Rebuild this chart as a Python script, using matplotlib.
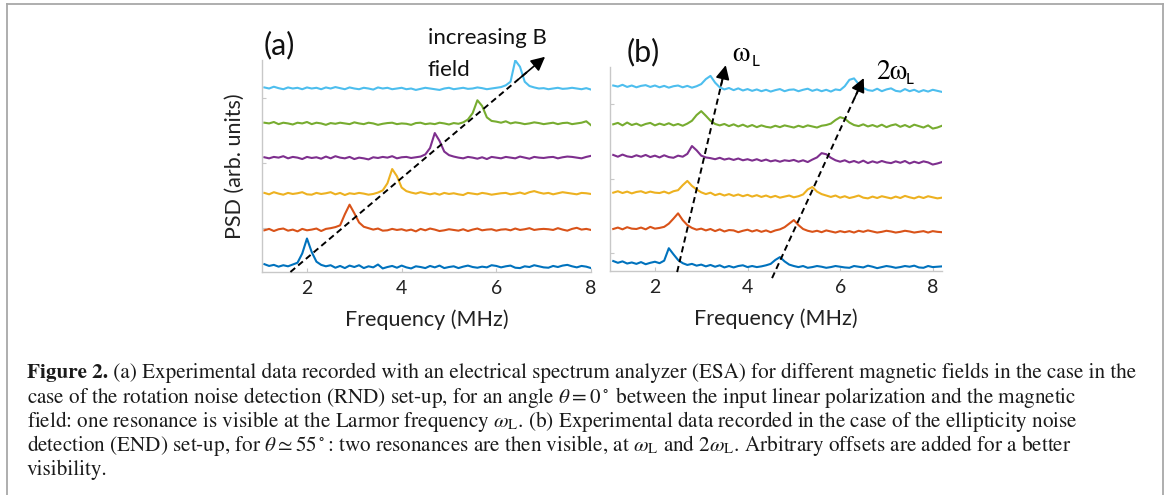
import numpy as np
import matplotlib
matplotlib.use('Agg')
import matplotlib.pyplot as plt
from matplotlib.lines import Line2D

plt.rcParams['mathtext.fontset'] = 'stix'

# frequency grids (MHz)
freq_a = np.arange(1.1, 8.05, 0.1)
freq_b = np.arange(1.1, 8.25, 0.1)

# trace colours (blue, red, yellow, purple, green, cyan)
colors = ['#0072BD', '#D95319', '#EDB120', '#7E2F8E', '#77AC30', '#4DBEEE']

# panel (a): PSD traces, in hundredths of the offset step
a_blue = [8, 3, 6, 1, 5, 2, 7, 12, 38, 80,
          42, 15, 6, 2, 5, -2, 3, -3, 4, 0,
          5, -3, 2, -1, 7, -4, 0, 3, -2, 4,
          -1, -4, 2, 0, -3, 3, -1, 4, -3, 0,
          2, -3, 1, 4, 0, -2, 1, -1, 5, 3,
          -1, 2, 4, -2, -3, 2, 0, 5, 2, -1,
          -2, 3, 0, 4, 6, 2, -1, 3, 1, -3]
a_red = [0, 4, -2, 3, 5, -1, 2, -3, 4, 0,
         2, 5, -2, 4, 6, 9, 14, 45, 72, 48,
         22, 10, 6, 2, 5, -1, 0, 4, 1, 3,
         -1, 2, -3, 4, 0, 5, 2, -2, 0, 3,
         1, -1, 3, -2, 2, 5, 0, 2, 3, -1,
         2, 3, 0, 5, 1, 3, 6, 1, 3, 4,
         3, 1, 6, 2, -1, 4, 7, 2, 4, 1]
a_yellow = [3, -1, 5, 1, -2, 3, 0, 2, 5, -1,
            -2, 3, 0, 2, 5, -1, 3, -3, 2, 0,
            3, 1, -2, 0, 4, 10, 30, 70, 50, 18,
            8, 4, 1, 5, 2, -1, 2, -2, 3, 0,
            2, -1, -3, 3, 1, -1, 3, 1, -2, 0,
            2, 3, -1, 1, 4, 0, 5, 8, 4, 1,
            3, -1, 2, 5, 3, 1, -1, 3, 2, 0]
a_purple = [2, -1, 3, 1, 5, -1, 3, 1, -3, 3,
            0, 2, -2, 4, -1, 5, 1, -1, 3, -3,
            1, -1, -4, 2, 0, 3, 1, 5, -1, 2,
            3, 0, 2, 4, 10, 28, 70, 48, 18, 8,
            4, 1, -1, 3, 1, -2, 2, -3, 3, 1,
            -1, 3, 1, -1, 4, 1, -2, 3, 1, 0,
            2, 3, -1, 2, 4, 3, 1, -1, 3, 6]
a_green = [3, 1, 5, -1, 3, 1, -2, 3, 1, 5,
           -1, 3, 1, -3, 2, 0, 3, 1, -1, 4,
           1, -1, 3, 1, -3, 0, 2, 3, -1, 1,
           0, -3, 2, 3, -1, 1, -1, 3, 1, -2,
           2, 0, 4, 12, 30, 66, 50, 18, 8, 6,
           3, 7, 1, 4, 2, -1, 1, 4, 2, -1,
           1, 3, -1, 2, 3, -1, 1, 3, 7, -4]
a_cyan = [4, 1, 6, 2, -1, 4, 1, 3, -1, 4,
          1, 3, -1, 4, 1, 5, 2, -1, 4, 1,
          -1, 3, 1, -2, 4, 1, 3, -1, 1, 3,
          -1, 1, -3, 0, 3, 1, -1, -3, 1, 3,
          -1, 1, 3, 0, 1, 4, 2, -1, 1, 3,
          5, 10, 20, 80, 62, 20, 8, 4, 1, 2,
          -1, 1, 3, 0, 1, 3, 1, -1, 2, -2]
offsets_a = [0, 1.03, 2.05, 3.06, 4.02, 5.0]

# panel (b): two resonances (wL and 2wL)
b_blue = [17, 12, 16, 10, 13, 9, 14, 8, 12, 15,
          11, 18, 53, 36, 20, 11, 6, 9, 4, 7,
          2, 6, 1, 5, -1, 3, -1, 3, 5, 0,
          3, 0, 2, 5, 9, 20, 28, 16, 7, 3,
          0, 3, -2, 0, 3, 1, -2, 0, 3, 1,
          -1, -2, 3, 1, -1, 4, 1, -3, 0, 3,
          1, -2, 0, 3, 1, 4, -1, -2, 3, 0, 1, 2]
b_red = [9, 13, 8, 14, 10, 9, 13, 8, 15, 10,
         12, 15, 24, 38, 53, 34, 20, 12, 7, 10,
         5, 9, 3, 8, 2, 6, 5, 0, 4, 7,
         2, 6, 1, 5, 0, 5, 8, 14, 24, 34,
         20, 9, 4, 1, 4, 0, 5, 2, -1, 3,
         0, 3, -1, 4, 1, 5, 2, -1, 1, 4,
         2, -1, 1, 4, 2, -1, 1, 3, -1, 3, 1, 0]
b_yellow = [15, 19, 14, 18, 13, 17, 19, 14, 18, 15,
            14, 18, 13, 19, 22, 36, 48, 34, 24, 16,
            11, 15, 8, 12, 7, 11, 6, 10, 5, 9,
            4, 8, 3, 7, 2, 6, 1, 4, 7, 2,
            5, 10, 24, 31, 18, 11, 7, 3, 7, 1,
            5, 0, 3, 7, 1, -1, 4, 0, 5, 2,
            -1, 4, 0, 6, 2, -1, 4, 0, 5, 2, -1, 1]
b_purple = [23, 18, 24, 19, 17, 22, 18, 23, 17, 21,
            16, 22, 17, 15, 21, 18, 26, 48, 36, 21,
            16, 14, 11, 15, 10, 13, 9, 13, 8, 11,
            7, 11, 6, 10, 5, 8, 4, 8, 6, 9,
            4, 8, 3, 10, 16, 28, 25, 15, 8, 4,
            8, 2, 6, 1, 7, 0, 5, 1, 6, 2,
            0, 5, 1, 6, -1, 4, 0, 5, 2, -4, -1, 3]
b_green = [8, 12, 5, 13, 6, 10, 4, 9, 12, 5,
           10, 6, 11, 5, 9, 4, 10, 18, 34, 45,
           32, 18, 9, 5, 9, 3, 8, 2, 7, 1,
           6, 0, 5, 1, -1, 4, 0, 5, 2, -1,
           4, 0, 5, 2, -1, 4, 6, 10, 20, 28,
           24, 13, 6, 3, 8, 2, 6, 1, 7, 0,
           5, 8, 1, 6, 0, 7, 3, -1, 5, -4, -1, 4]
b_cyan = [18, 15, 20, 14, 18, 13, 17, 19, 14, 18,
          13, 17, 12, 16, 18, 13, 17, 12, 16, 22,
          36, 45, 26, 13, 7, 11, 5, 10, 4, 8,
          3, 7, 2, 6, 1, 5, 8, 2, 6, 7,
          2, 6, 9, 3, 7, 2, 6, 1, 7, 5,
          16, 34, 38, 22, 11, 5, 3, 9, 2, 7,
          10, 3, 1, 8, 2, 6, 0, 5, 1, 6, 3, 0]
offsets_b = [0, 0.98, 1.94, 2.92, 3.93, 4.92]

traces_a = [a_blue, a_red, a_yellow, a_purple, a_green, a_cyan]
traces_b = [b_blue, b_red, b_yellow, b_purple, b_green, b_cyan]

xticks = [2, 4, 6, 8]
yticks_a = [1.10, 2.92, 4.75]
yticks_b = [0.39, 2.47, 4.58]

W, H = 1167, 495
fig = plt.figure(figsize=(W / 100, H / 100), dpi=100)
fig.patch.set_facecolor('white')


def px(x, y):
    # figure pixel (from top-left) -> figure fraction
    return x / W, 1 - y / H


def style_axes(ax, yt):
    for s in ['top', 'right']:
        ax.spines[s].set_visible(False)
    for s in ['left', 'bottom']:
        ax.spines[s].set_color('#c8c8c8')
        ax.spines[s].set_linewidth(1.0)
    ax.set_xticks(xticks)
    ax.set_yticks(yt)
    ax.set_yticklabels([])
    ax.tick_params(direction='in', length=3, color='#c8c8c8', width=0.8,
                   labelsize=14, labelcolor='#222222', pad=6)
    for lab in ax.get_xticklabels():
        lab.set_fontfamily('Lato')
    ax.set_xlabel('Frequency (MHz)', fontsize=15.5, family='Lato', color='#222222', labelpad=9)


def dashed_arrow(ax, x0, y0, x1, y1):
    # dashed shaft with a solid head
    f = 0.94
    xm, ym = x0 + f * (x1 - x0), y0 + f * (y1 - y0)
    ax.plot([x0, xm], [y0, ym], color='black', lw=1.4, dashes=(3.2, 2.0), clip_on=False, zorder=5)
    ax.annotate('', xy=(x1, y1), xytext=(x0 + 0.9 * (x1 - x0), y0 + 0.9 * (y1 - y0)),
                arrowprops=dict(arrowstyle='-|>', color='black', lw=1.2, mutation_scale=21,
                                shrinkA=0, shrinkB=0),
                annotation_clip=False, zorder=6)


# panel (a)
ax1 = fig.add_axes([262 / W, 1 - 272 / H, 329 / W, 212 / H])
for vals, off, c in zip(traces_a, offsets_a, colors):
    ax1.plot(freq_a, np.array(vals) / 100 + off, color=c, lw=1.5)
ax1.set_xlim(1.05, 8.0)
ax1.set_ylim(-0.14, 5.81)
style_axes(ax1, yticks_a)
ax1.set_ylabel('PSD (arb. units)', fontsize=15.5, family='Lato', color='#222222', labelpad=6)
dashed_arrow(ax1, 1.65, -0.14, 7.03, 5.9)

# panel (b)
ax2 = fig.add_axes([610 / W, 1 - 271 / H, 332 / W, 204 / H])
for vals, off, c in zip(traces_b, offsets_b, colors):
    ax2.plot(freq_b, np.array(vals) / 100 + off, color=c, lw=1.5)
ax2.set_xlim(1.03, 8.2)
ax2.set_ylim(-0.11, 5.62)
style_axes(ax2, yticks_b)
dashed_arrow(ax2, 2.48, -0.14, 3.53, 5.67)
dashed_arrow(ax2, 4.53, -0.31, 6.51, 5.31)

# panel labels and annotations
fig.text(*px(264, 45), '(a)', fontsize=22, family='Lato', va='center', ha='left', color='#111111')
fig.text(*px(627, 52), '(b)', fontsize=22, family='Lato', va='center', ha='left', color='#111111')
fig.text(*px(428, 38), 'increasing B', fontsize=16, family='Lato', va='center', ha='left', color='#111111')
fig.text(*px(428, 70), 'field', fontsize=16, family='Lato', va='center', ha='left', color='#111111')
fig.text(*px(732, 54), '\u03c9', fontsize=20, family='STIXGeneral', va='center', ha='left')
fig.text(*px(752, 62), 'L', fontsize=11, family='Lato', va='center', ha='left')
fig.text(*px(876, 72), '2\u03c9', fontsize=20, family='STIXGeneral', va='center', ha='left')
fig.text(*px(906, 80), 'L', fontsize=11, family='Lato', va='center', ha='left')

# caption
cap_fs = 15.2
cap_lines = [
    ' (a) Experimental data recorded with an electrical spectrum analyzer (ESA) for different magnetic fields in the case in the',
    r'case of the rotation noise detection (RND) set-up, for an angle $\theta = 0^\circ$ between the input linear polarization and the magnetic',
    r'field: one resonance is visible at the Larmor frequency $\omega_\mathrm{L}$. (b) Experimental data recorded in the case of the ellipticity noise',
    r'detection (END) set-up, for $\theta \simeq 55^\circ$: two resonances are then visible, at $\omega_\mathrm{L}$ and $2\omega_\mathrm{L}$. Arbitrary offsets are added for a better',
    'visibility.',
]
cap_y = [373, 397, 422, 446, 470]
bold = fig.text(*px(27, cap_y[0]), 'Figure 2.', fontsize=cap_fs, family='STIXGeneral',
                weight='bold', va='center', ha='left', color='#1a1a1a')
fig.canvas.draw()
bb = bold.get_window_extent(fig.canvas.get_renderer())
fig.text(bb.x1 / W, 1 - cap_y[0] / H, cap_lines[0], fontsize=cap_fs, family='STIXGeneral',
         va='center', ha='left', color='#1a1a1a')
for line, y in zip(cap_lines[1:], cap_y[1:]):
    fig.text(*px(27, y), line, fontsize=cap_fs, family='STIXGeneral', va='center', ha='left',
             color='#1a1a1a')

# outer frame (open at the bottom)
fc = '#a8a8a8'
fig.add_artist(Line2D([7 / W, 7 / W], [0, 1 - 4 / H], color=fc, lw=1.3))
fig.add_artist(Line2D([7 / W, 1163 / W], [1 - 4 / H, 1 - 4 / H], color=fc, lw=1.3))
fig.add_artist(Line2D([1163 / W, 1163 / W], [0, 1 - 4 / H], color=fc, lw=1.3))

plt.savefig('out.png', dpi=100)
